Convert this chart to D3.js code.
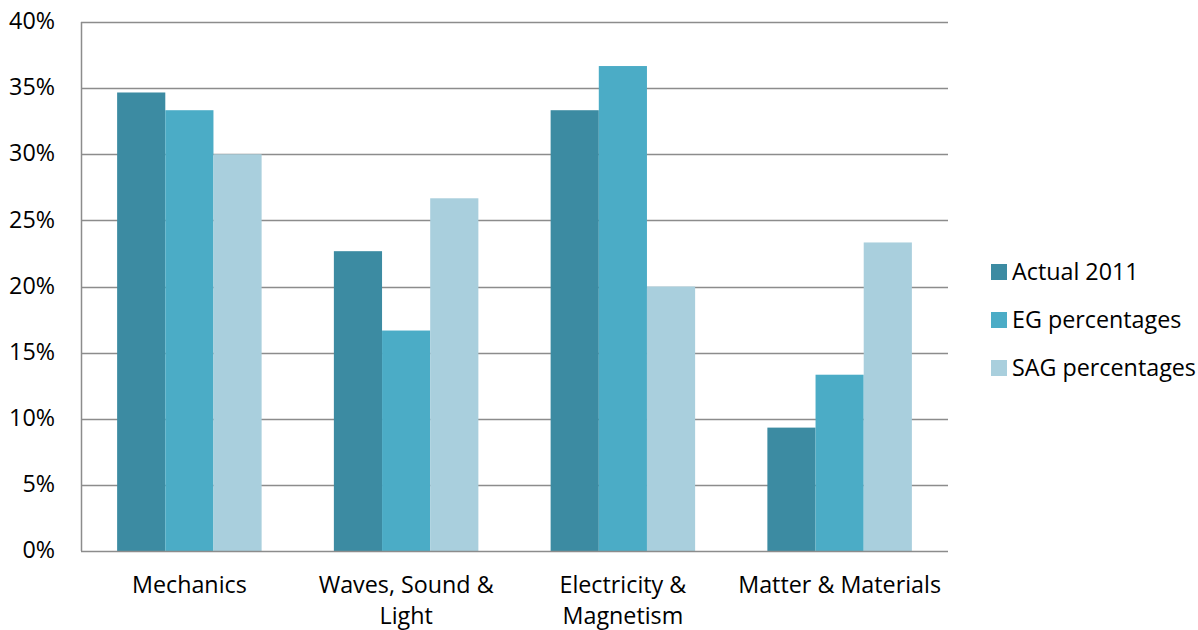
<!DOCTYPE html>
<html><head><meta charset="utf-8">
<script src="https://cdn.jsdelivr.net/npm/d3@7"></script>
<style>body{margin:0;background:#fff}svg{display:block}text{font-family:"Open Sans",Lato,sans-serif;fill:#000}</style>
</head><body>
<script>
const categories = [["Mechanics"], ["Waves, Sound &", "Light"], ["Electricity &", "Magnetism"], ["Matter & Materials"]];
const seriesNames = ["Actual 2011", "EG percentages", "SAG percentages"];
const actual2011 = [34.67, 22.67, 33.33, 9.33];
const egPercentages = [33.33, 16.67, 36.67, 13.33];
const sagPercentages = [30.0, 26.67, 20.0, 23.33];
const yTicks = [0, 5, 10, 15, 20, 25, 30, 35, 40];
const colors = ["#3C8BA2", "#4BACC6", "#A9CFDD"];

const series = [actual2011, egPercentages, sagPercentages];
const W = 1198, H = 630;
const FS = 23.3;
const m = {left: 81, right: 250, top: 22, bottom: 79};
const svg = d3.select("body").append("svg").attr("width", W).attr("height", H);
const x0 = d3.scaleBand().domain(d3.range(categories.length)).range([m.left, W - m.right]).padding(0);
const bw = x0.bandwidth();
// Excel gap width 150%: bars take 3/(3+1.5) of band
const x1 = d3.scaleBand().domain(d3.range(series.length)).range([bw * 0.75 / 4.5, bw - bw * 0.75 / 4.5]).padding(0);
const y = d3.scaleLinear().domain([0, 40]).range([H - m.bottom, m.top]);

// gridlines
svg.append("g").selectAll("line").data(yTicks.filter(d => d > 0)).join("line")
  .attr("x1", m.left).attr("x2", W - m.right)
  .attr("y1", d => Math.round(y(d)) + 0.5).attr("y2", d => Math.round(y(d)) + 0.5)
  .attr("stroke", "#8c8c8c").attr("stroke-width", 1.3);

// bars
const g = svg.append("g");
series.forEach((vals, si) => {
  g.selectAll(null).data(vals).join("rect")
    .attr("x", (d, i) => x0(i) + x1(si))
    .attr("width", x1.bandwidth())
    .attr("y", d => y(d))
    .attr("height", d => y(0) - y(d))
    .attr("fill", colors[si]);
});

// axes lines
svg.append("line").attr("x1", m.left + 0.5).attr("x2", m.left + 0.5).attr("y1", m.top).attr("y2", y(0))
  .attr("stroke", "#8c8c8c").attr("stroke-width", 1.5);
svg.append("line").attr("x1", m.left).attr("x2", W - m.right).attr("y1", y(0) + 0.5).attr("y2", y(0) + 0.5)
  .attr("stroke", "#8c8c8c").attr("stroke-width", 1.5);

// y labels
svg.append("g").selectAll("text").data(yTicks).join("text")
  .attr("x", 55).attr("y", d => y(d) - 1).attr("dy", "0.35em").attr("text-anchor", "end")
  .attr("font-size", FS).text(d => d + "%");

// x labels
const xl = svg.append("g").selectAll("text").data(categories).join("text")
  .attr("x", (d, i) => x0(i) + bw / 2).attr("y", 593)
  .attr("text-anchor", "middle").attr("font-size", FS);
xl.each(function(lines, i) {
  const t = d3.select(this);
  lines.forEach((l, k) => t.append("tspan").attr("x", x0(i) + bw / 2).attr("dy", k === 0 ? 0 : 31).text(l));
});

// legend
const lg = svg.append("g").selectAll("g").data(seriesNames).join("g")
  .attr("transform", (d, i) => `translate(991, ${272 + i * 48})`);
lg.append("rect").attr("x", 0).attr("y", -8).attr("width", 16).attr("height", 16).attr("fill", (d, i) => colors[i]);
lg.append("text").attr("x", 21).attr("y", 0).attr("dy", "0.35em").attr("font-size", FS).text(d => d);
</script>
</body></html>
